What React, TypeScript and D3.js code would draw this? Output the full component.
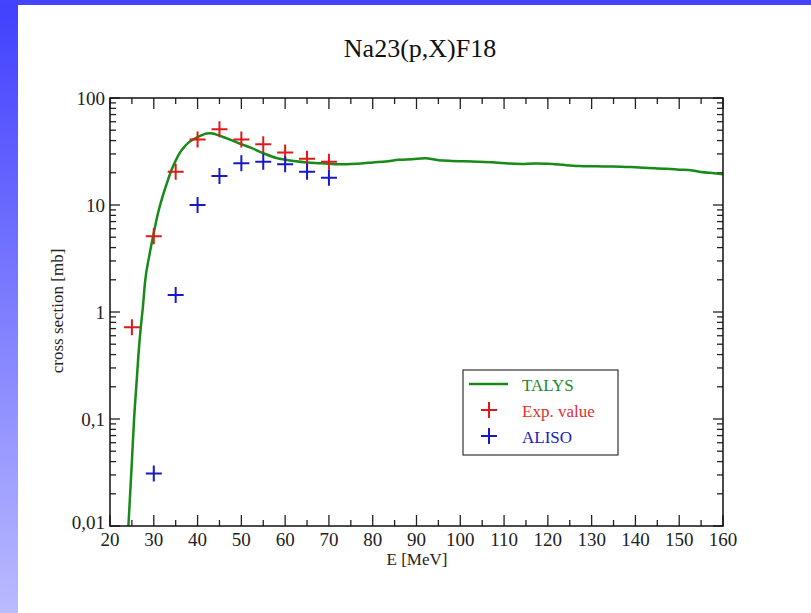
import React, { useEffect, useRef } from 'react';
import * as d3 from 'd3';

// TALYS calculation (energy MeV, cross section mb)
const talysE = [24.2, 24.6, 25, 25.5, 26, 26.5, 27, 27.5, 28, 29, 30, 31, 32, 33, 34, 35, 36, 37, 38, 39, 40, 41, 42, 43, 44, 45, 46, 47, 48, 50, 52, 55, 58, 60, 62, 65, 68, 70, 72, 75, 78, 80, 83, 86, 89, 92, 95, 98, 101, 104, 108, 111, 114, 117, 120, 124, 127, 131, 135, 139, 143, 147, 150, 153, 155, 158, 160];
const talysXS = [0.01, 0.02, 0.04, 0.1, 0.2, 0.4, 0.7, 1.1, 1.9, 3.4, 5.5, 8.5, 12, 16, 21, 26, 31, 35, 38.5, 41, 43, 45, 46.5, 46.8, 46, 44.5, 43, 41.5, 40, 37, 34.5, 30.5, 27.5, 26.5, 25.8, 25, 24.6, 24.3, 24, 24.2, 24.6, 25, 25.5, 26.5, 26.8, 27.3, 26.2, 25.8, 25.6, 25.3, 25, 24.4, 24.2, 24.4, 24.3, 23.6, 23.2, 23, 22.9, 22.6, 22.2, 21.8, 21.4, 21, 20.3, 19.8, 19.4];

// experimental values
const expE = [25, 30, 35, 40, 45, 50, 55, 60, 65, 70];
const expXS = [0.72, 5.1, 20.5, 41, 51, 41, 37, 31, 27, 25.4];

// ALISO
const alisoE = [30, 35, 40, 45, 50, 55, 60, 65, 70];
const alisoXS = [0.031, 1.44, 10, 18.7, 24.5, 25.4, 24, 20.5, 18];

const xTicks = [20, 30, 40, 50, 60, 70, 80, 90, 100, 110, 120, 130, 140, 150, 160];
const yTicks = [0.01, 0.1, 1, 10, 100];
const yTickLabels = ['0,01', '0,1', '1', '10', '100'];

const legendNames = ['TALYS', 'Exp. value', 'ALISO'];

const W = 811;
const H = 613;
const FONT = '"Liberation Serif", "DejaVu Serif", serif';

export default function App() {
  const ref = useRef<SVGSVGElement>(null);

  useEffect(() => {
    const svg = d3.select(ref.current);
    svg.selectAll('*').remove();

    const left = 110, right = 723, top = 98, bottom = 526;
    const x = d3.scaleLinear().domain([20, 160]).range([left, right]);
    const y = d3.scaleLog().domain([0.01, 100]).range([bottom, top]);

    // background frame
    const defs = svg.append('defs');
    const grad = defs.append('linearGradient').attr('id', 'side').attr('x1', 0).attr('y1', 0).attr('x2', 0).attr('y2', 1);
    grad.append('stop').attr('offset', '0%').attr('stop-color', '#4040ff');
    grad.append('stop').attr('offset', '100%').attr('stop-color', '#babaff');
    svg.append('rect').attr('width', W).attr('height', H).attr('fill', '#ffffff');
    svg.append('rect').attr('x', 0).attr('y', 0).attr('width', 18).attr('height', H).attr('fill', 'url(#side)');
    svg.append('rect').attr('x', 0).attr('y', 0).attr('width', W).attr('height', 5).attr('fill', '#4444ff');

    // title
    svg.append('text').attr('x', 420).attr('y', 57).attr('text-anchor', 'middle')
      .style('font-family', FONT).style('font-size', '26px').attr('fill', '#111')
      .text('Na23(p,X)F18');

    const g = svg.append('g');

    // ticks
    const minorX = d3.range(25, 160, 10);
    const tick = (x1: number, y1: number, x2: number, y2: number) =>
      g.append('line').attr('x1', x1).attr('y1', y1).attr('x2', x2).attr('y2', y2)
        .attr('stroke', '#222').attr('stroke-width', 1.3);

    xTicks.forEach(v => { tick(x(v), bottom, x(v), bottom - 11); tick(x(v), top, x(v), top + 11); });
    minorX.forEach(v => { tick(x(v), bottom, x(v), bottom - 6); tick(x(v), top, x(v), top + 6); });

    const minorY: number[] = [];
    for (let d = -2; d < 2; d++) for (let m = 2; m <= 9; m++) minorY.push(m * Math.pow(10, d));
    yTicks.forEach(v => { tick(left, y(v), left + 10, y(v)); tick(right, y(v), right - 10, y(v)); });
    minorY.forEach(v => { tick(left, y(v), left + 6, y(v)); tick(right, y(v), right - 6, y(v)); });

    // tick labels
    g.selectAll('.xl').data(xTicks).enter().append('text')
      .attr('x', d => x(d)).attr('y', bottom + 20).attr('text-anchor', 'middle')
      .style('font-family', FONT).style('font-size', '19px').attr('fill', '#222')
      .text(d => d);
    g.selectAll('.yl').data(yTicks).enter().append('text')
      .attr('x', left - 5).attr('y', (d, i) => y(d) + (i === 0 ? 3 : 7)).attr('text-anchor', 'end')
      .style('font-family', FONT).style('font-size', '19px').attr('fill', '#222')
      .text((d, i) => yTickLabels[i]);

    // axis titles
    svg.append('text').attr('x', 417).attr('y', 565).attr('text-anchor', 'middle')
      .style('font-family', FONT).style('font-size', '17px').attr('fill', '#222')
      .text('E [MeV]');
    svg.append('text').attr('transform', `translate(63,311) rotate(-90)`)
      .attr('text-anchor', 'middle')
      .style('font-family', FONT).style('font-size', '17px').attr('fill', '#222')
      .text('cross section [mb]');

    // TALYS line
    const clip = defs.append('clipPath').attr('id', 'plot');
    clip.append('rect').attr('x', left).attr('y', top).attr('width', right - left).attr('height', bottom - top);
    const line = d3.line<number>().x((d, i) => x(talysE[i])).y(d => y(d)).curve(d3.curveMonotoneX);
    g.append('path').attr('d', line(talysXS)).attr('fill', 'none').attr('stroke', '#178a17')
      .attr('stroke-width', 2.5).attr('clip-path', 'url(#plot)');

    const plus = (cx: number, cy: number, color: string) => {
      const s = 8;
      g.append('path').attr('d', `M${cx - s},${cy}H${cx + s}M${cx},${cy - s}V${cy + s}`)
        .attr('stroke', color).attr('stroke-width', 2).attr('fill', 'none');
    };
    expE.forEach((e, i) => plus(x(e), y(expXS[i]), '#e01818'));
    alisoE.forEach((e, i) => plus(x(e), y(alisoXS[i]), '#1818c8'));

    // frame
    g.append('rect').attr('x', left).attr('y', top).attr('width', right - left).attr('height', bottom - top)
      .attr('fill', 'none').attr('stroke', '#111').attr('stroke-width', 1.5);

    // legend
    const lg = svg.append('g');
    lg.append('rect').attr('x', 463).attr('y', 370).attr('width', 155).attr('height', 85)
      .attr('fill', '#fff').attr('stroke', '#333').attr('stroke-width', 1.2);
    const colors = ['#1e8a2a', '#d83030', '#2020c0'];
    legendNames.forEach((name, i) => {
      const ly = 384 + i * 26;
      if (i === 0) {
        lg.append('line').attr('x1', 469).attr('x2', 508).attr('y1', ly).attr('y2', ly)
          .attr('stroke', '#178a17').attr('stroke-width', 2.5);
      } else {
        const s = 8;
        lg.append('path').attr('d', `M${489 - s},${ly}H${489 + s}M${489},${ly - s}V${ly + s}`)
          .attr('stroke', i === 1 ? '#e01818' : '#1818c8').attr('stroke-width', 2);
      }
      lg.append('text').attr('x', 522).attr('y', ly + 7)
        .style('font-family', FONT).style('font-size', '17px').attr('fill', colors[i])
        .text(name);
    });
  }, []);

  return (
    <svg ref={ref} width={W} height={H} style={{ position: 'absolute', left: 0, top: 0 }} />
  );
}
